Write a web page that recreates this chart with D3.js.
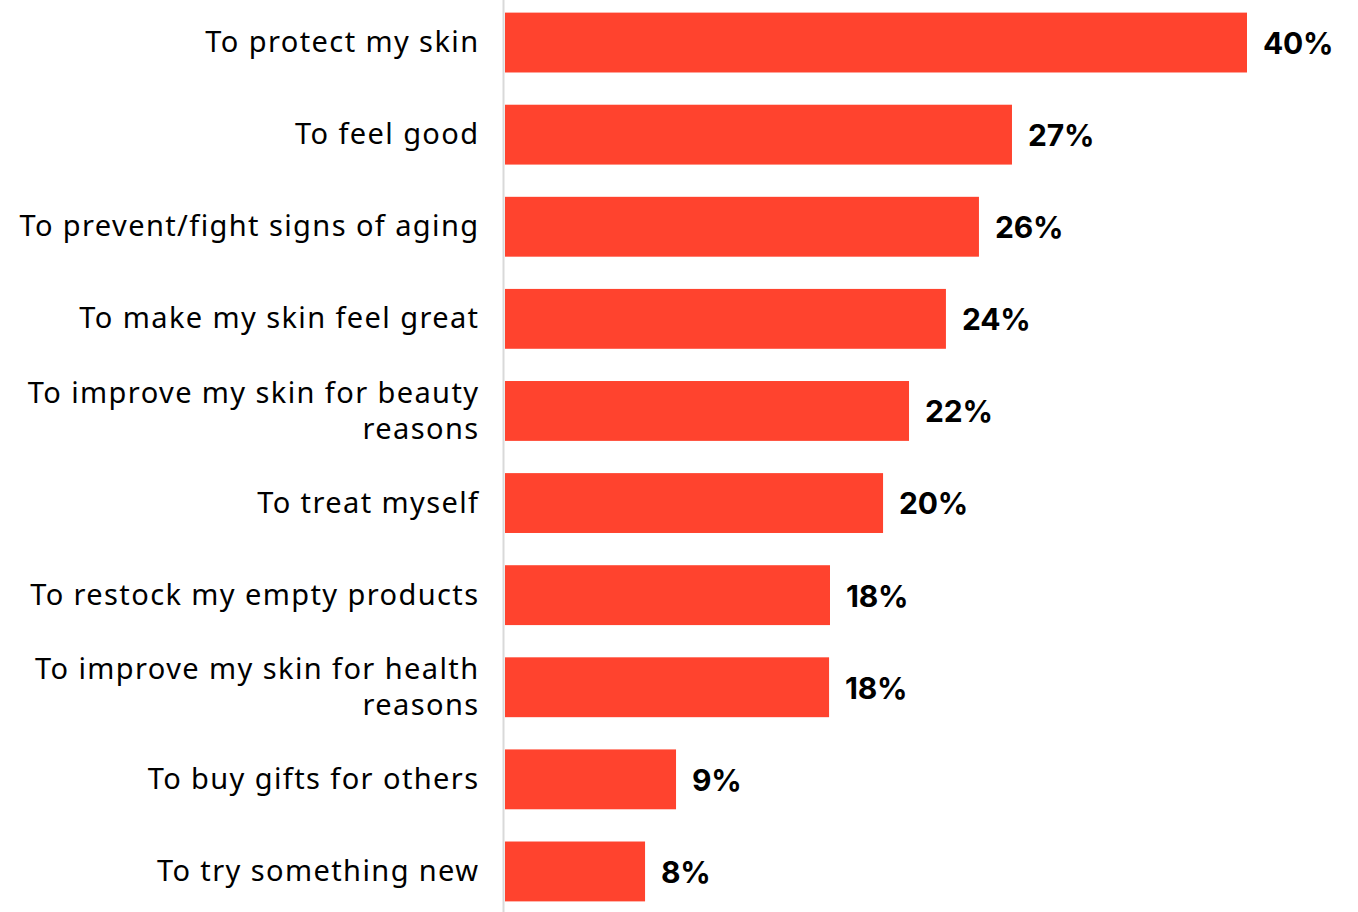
<!DOCTYPE html>
<html><head><meta charset="utf-8">
<script src="https://cdn.jsdelivr.net/npm/d3@7"></script>
<style>body{margin:0;background:#fff;}svg{display:block;}</style>
</head><body>
<svg id="c" width="1358" height="912"></svg>
<script>
const categories = [
  ["To protect my skin"],
  ["To feel good"],
  ["To prevent/fight signs of aging"],
  ["To make my skin feel great"],
  ["To improve my skin for beauty", "reasons"],
  ["To treat myself"],
  ["To restock my empty products"],
  ["To improve my skin for health", "reasons"],
  ["To buy gifts for others"],
  ["To try something new"]
];
const values = [40, 27.33, 25.55, 23.77, 21.78, 20.38, 17.52, 17.47, 9.22, 7.55];
const valueLabels = ["40%", "27%", "26%", "24%", "22%", "20%", "18%", "18%", "9%", "8%"];

const svg = d3.select("#c");
const x0 = 505, x1 = 1247;
const x = d3.scaleLinear().domain([0, 40]).range([x0, x1]);
const y = d3.scaleBand().domain(d3.range(categories.length)).range([-3.5, 917.5]).paddingInner(0.35).paddingOuter(0.175);

svg.append("line").attr("x1", 503.5).attr("x2", 503.5).attr("y1", 0).attr("y2", 912)
  .attr("stroke", "#d9d9d9").attr("stroke-width", 2);

const g = svg.selectAll("g.row").data(values).join("g").attr("class", "row");
g.append("rect").attr("x", x(0)).attr("y", (d, i) => y(i)).attr("height", y.bandwidth())
  .attr("width", d => x(d) - x(0)).attr("fill", "#FF432E");
g.append("text").attr("x", d => x(d) + 16).attr("y", (d, i) => y(i) + y.bandwidth() / 2)
  .attr("dy", "0.38em").attr("font-family", "Inter, 'Noto Sans', sans-serif").attr("font-weight", 700)
  .attr("font-size", 30).attr("letter-spacing", -0.2).attr("fill", "#000").text((d, i) => valueLabels[i]);

const lab = svg.selectAll("text.cat").data(categories).join("text").attr("class", "cat")
  .attr("text-anchor", "end").attr("font-family", "'Noto Sans', sans-serif").attr("font-size", 29)
  .attr("letter-spacing", 1.4).attr("fill", "#000");
lab.each(function(lines, i) {
  const cy = y(i) + y.bandwidth() / 2;
  const lh = 36;
  const start = cy - (lines.length - 1) * lh / 2;
  d3.select(this).selectAll("tspan").data(lines).join("tspan")
    .attr("x", 479.5).attr("y", (l, j) => start + j * lh).attr("dy", "0.33em").text(l => l);
});
</script>
</body></html>
